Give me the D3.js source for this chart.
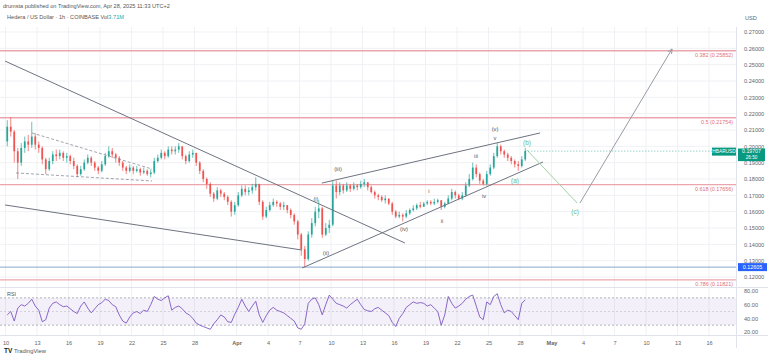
<!DOCTYPE html>
<html><head><meta charset="utf-8">
<script src="https://cdn.jsdelivr.net/npm/d3@7/dist/d3.min.js"></script>
<style>
body{margin:0;background:#fff;}
svg{display:block;font-family:"Liberation Sans",Arial,sans-serif;}
</style></head>
<body><svg id="c" width="768" height="359"></svg>
<script>
// ---------- DATA ----------
const firstOpen = 0.203;
const closes = [0.212,0.209,0.197,0.190,0.199,0.203,0.201,0.206,0.201,0.199,0.192,0.186,0.191,0.195,0.194,0.196,0.193,0.194,0.191,0.188,
0.183,0.186,0.190,0.193,0.190,0.187,0.185,0.189,0.194,0.197,0.195,0.193,0.190,0.187,0.185,0.187,0.185,0.186,0.184,0.185,
0.183,0.184,0.191,0.193,0.196,0.194,0.198,0.197,0.198,0.200,0.194,0.191,0.195,0.196,0.190,0.185,0.180,0.177,0.171,0.168,
0.173,0.171,0.169,0.166,0.160,0.164,0.170,0.174,0.172,0.173,0.175,0.177,0.166,0.157,0.161,0.164,0.166,0.165,0.163,0.164,
0.161,0.158,0.154,0.146,0.137,0.131,0.146,0.153,0.160,0.162,0.146,0.150,0.152,0.176,0.172,0.176,0.173,0.176,0.174,0.176,
0.175,0.177,0.178,0.175,0.172,0.170,0.169,0.167,0.168,0.165,0.160,0.157,0.158,0.157,0.159,0.161,0.162,0.164,0.163,0.165,
0.166,0.165,0.166,0.167,0.163,0.165,0.168,0.172,0.170,0.168,0.170,0.176,0.180,0.187,0.183,0.179,0.177,0.183,0.187,0.194,
0.200,0.197,0.195,0.193,0.191,0.189,0.188,0.192,0.19707];
const highs = [0.216,0.218,0.210,0.199,0.202,0.206,0.207,0.215,0.208,0.203,0.200,0.193,0.193,0.197,0.198,0.198,0.197,0.196,0.195,0.193,
0.189,0.188,0.192,0.195,0.194,0.191,0.188,0.191,0.196,0.200,0.199,0.196,0.194,0.191,0.188,0.189,0.188,0.188,0.187,0.187,
0.186,0.186,0.193,0.195,0.198,0.197,0.200,0.200,0.200,0.202,0.200,0.195,0.197,0.198,0.196,0.191,0.186,0.181,0.178,0.172,
0.175,0.174,0.172,0.170,0.167,0.166,0.172,0.176,0.176,0.175,0.177,0.181,0.177,0.167,0.163,0.166,0.168,0.167,0.166,0.166,
0.164,0.162,0.159,0.155,0.147,0.139,0.148,0.156,0.163,0.167,0.163,0.153,0.155,0.179,0.179,0.178,0.177,0.178,0.177,0.178,
0.177,0.179,0.180,0.178,0.176,0.173,0.171,0.170,0.170,0.168,0.166,0.161,0.160,0.159,0.161,0.162,0.164,0.165,0.166,0.166,
0.167,0.167,0.168,0.168,0.167,0.166,0.170,0.174,0.173,0.171,0.172,0.178,0.183,0.190,0.189,0.184,0.180,0.185,0.189,0.196,
0.202,0.201,0.198,0.196,0.194,0.192,0.191,0.194,0.199];
const lows = [0.200,0.206,0.190,0.180,0.188,0.196,0.197,0.199,0.198,0.196,0.189,0.183,0.185,0.189,0.191,0.192,0.191,0.190,0.189,0.186,
0.181,0.182,0.185,0.189,0.188,0.185,0.183,0.184,0.188,0.193,0.193,0.190,0.188,0.185,0.183,0.184,0.183,0.184,0.182,0.183,
0.182,0.181,0.183,0.190,0.192,0.192,0.193,0.195,0.195,0.196,0.192,0.189,0.190,0.193,0.188,0.183,0.178,0.174,0.169,0.166,
0.167,0.169,0.167,0.164,0.157,0.158,0.163,0.169,0.170,0.170,0.171,0.173,0.164,0.155,0.156,0.160,0.163,0.163,0.161,0.161,
0.159,0.156,0.152,0.143,0.133,0.126,0.130,0.144,0.151,0.156,0.144,0.145,0.147,0.151,0.168,0.170,0.171,0.172,0.172,0.173,
0.173,0.174,0.175,0.173,0.171,0.168,0.167,0.166,0.165,0.164,0.158,0.156,0.156,0.154,0.156,0.158,0.160,0.161,0.162,0.163,
0.164,0.164,0.164,0.165,0.161,0.162,0.165,0.167,0.168,0.167,0.167,0.169,0.175,0.179,0.181,0.177,0.176,0.176,0.182,0.186,
0.193,0.195,0.193,0.191,0.189,0.187,0.185,0.187,0.191];
const rsi = [45,50,36,55,60,58,62,68,58,52,35,38,55,62,64,60,57,58,54,50,
47,58,64,55,48,54,60,63,68,66,60,57,45,36,33,42,48,50,47,52,
50,60,72,68,66,70,73,52,56,58,54,48,45,40,33,30,28,26,24,32,
38,45,42,35,34,46,56,68,58,50,58,65,45,34,44,52,56,52,50,48,
44,40,36,26,24,32,62,68,70,60,45,60,74,68,62,60,58,55,60,64,
68,60,53,51,50,54,56,52,48,44,34,28,40,47,56,60,64,62,63,62,
58,60,55,50,30,45,72,62,55,58,62,68,72,74,58,42,38,64,60,72,
76,60,48,52,50,44,38,62,67];
const candleStart = "2025-03-10T00:00";
const candleHours = 8;

const priceTicks = [0.12,0.13,0.14,0.15,0.16,0.17,0.18,0.19,0.20,0.21,0.22,0.23,0.24,0.25,0.26,0.27];
const rsiTicks = [80,60,40,20];
const xTickDates = ["2025-03-10","2025-03-13","2025-03-16","2025-03-19","2025-03-22","2025-03-25","2025-03-28","2025-04-01",
"2025-04-04","2025-04-07","2025-04-10","2025-04-13","2025-04-16","2025-04-19","2025-04-22","2025-04-25","2025-04-28",
"2025-05-01","2025-05-04","2025-05-07","2025-05-10","2025-05-13","2025-05-16"];
const xTickLabels = ["10","13","16","19","22","25","28","Apr","4","7","10","13","16","19","22","25","28","May","4","7","10","13","16"];

const fibLevels = [0.25852,0.21754,0.17656,0.11821];
const fibNames = ["0.382","0.5","0.618","0.786"];
const supportLevel = 0.12605;
const lastPrice = 0.19707;

// drawn lines: [startDate, startPrice, endDate, endPrice]
const solidLines = [
 ["2025-03-09T23:00",0.2522,"2025-04-17T01:00",0.1408],
 ["2025-03-09T23:00",0.1641,"2025-04-07T06:00",0.1365],
 ["2025-04-09T03:00",0.1775,"2025-04-29T22:00",0.2082],
 ["2025-04-07T06:00",0.1255,"2025-04-30T04:30",0.1904]
];
const dashedLines = [
 ["2025-03-12T12:30",0.2082,"2025-03-23T23:00",0.1861],
 ["2025-03-11T00:00",0.1837,"2025-03-23T23:00",0.1788]
];
const greenPath = ["2025-04-28T16:00",0.1977,"2025-05-03T10:30",0.1653];
const arrowPath = ["2025-05-03T17:00",0.1653,"2025-05-12T11:30",0.2596];

const waveText = ["(i)","(ii)","(iii)","(iv)","i","ii","iii","iv","(v)","v","(a)","(b)","(c)"];
const waveDate = ["2025-04-08T13:40","2025-04-09T12:30","2025-04-10T16:00","2025-04-16T22:50","2025-04-19T08:00","2025-04-20T13:40",
"2025-04-23T19:30","2025-04-24T13:40","2025-04-25T15:00","2025-04-25T15:00","2025-04-27T12:30","2025-04-28T16:00","2025-05-03T05:50"];
const wavePrice = [0.1677,0.1347,0.1861,0.1494,0.1726,0.1543,0.1941,0.1690,0.2106,0.2051,0.1788,0.2020,0.1598];
const waveGreen = [false,false,false,false,false,false,false,false,false,false,true,true,true];

// ---------- SCALES ----------
const pT = d3.utcParse("%Y-%m-%dT%H:%M"), pD = d3.utcParse("%Y-%m-%d");
const x = d3.scaleUtc().domain([pD("2025-03-10"), pT("2025-05-18T13:42")]).range([5.5,736]);
const y = d3.scaleLinear().domain([0.12,0.27]).range([277,32]);
const yr = d3.scaleLinear().domain([20,80]).range([332,291]);
const PR = 736;

const svg = d3.select("#c");
svg.append("clipPath").attr("id","cm").append("rect").attr("x",0).attr("y",27).attr("width",PR).attr("height",260);
svg.append("clipPath").attr("id","cr").append("rect").attr("x",0).attr("y",287).attr("width",PR).attr("height",48);

// header
svg.append("text").attr("x",3).attr("y",8).attr("font-size",5.6).attr("fill","#555").text("drumsta published on TradingView.com, Apr 28, 2025 11:33 UTC+2");
// grid
const grid = svg.append("g");
grid.selectAll(".hg").data(priceTicks).join("line").attr("x1",0).attr("x2",PR).attr("y1",d=>y(d)).attr("y2",d=>y(d)).attr("stroke","#f0f1f4");
grid.selectAll(".vg").data(xTickDates).join("line").attr("x1",d=>x(pD(d))).attr("x2",d=>x(pD(d))).attr("y1",27).attr("y2",335).attr("stroke","#f0f1f4");
svg.append("line").attr("x1",PR+0.5).attr("x2",PR+0.5).attr("y1",27).attr("y2",348).attr("stroke","#e0e3eb");
svg.append("line").attr("x1",0).attr("x2",768).attr("y1",287.5).attr("y2",287.5).attr("stroke","#e0e3eb");
svg.append("line").attr("x1",0).attr("x2",768).attr("y1",335.5).attr("y2",335.5).attr("stroke","#e0e3eb");
svg.append("text").attr("x",7).attr("y",19).attr("font-size",5.6).attr("fill","#555").text("Hedera / US Dollar · 1h · COINBASE  Vol").append("tspan").attr("fill","#26a69a").text("3.71M");

// fib lines
const main = svg.append("g").attr("clip-path","url(#cm)");
main.selectAll(".fib").data(fibLevels).join("line").attr("x1",0).attr("x2",PR).attr("y1",d=>y(d)).attr("y2",d=>y(d)).attr("stroke","#eba5ad").attr("stroke-width",1.4);
svg.selectAll(".fibt").data(fibLevels).join("text").attr("x",PR-3).attr("y",d=>y(d)+6.5).attr("text-anchor","end").attr("font-size",5.4).attr("fill","#e0707c")
 .text((d,i)=>fibNames[i]+" ("+d.toFixed(5)+")");
main.append("line").attr("x1",0).attr("x2",PR).attr("y1",y(supportLevel)).attr("y2",y(supportLevel)).attr("stroke","#9fb9d6").attr("stroke-width",1.4);

// candles
const t0 = pT(candleStart);
const cw = x(new Date(t0.getTime()+candleHours*3600e3)) - x(t0);
const candles = closes.map((c,i)=>({t:new Date(t0.getTime()+(i+0.5)*candleHours*3600e3), o: i===0?firstOpen:closes[i-1], c, h:highs[i], l:lows[i]}));
const cg = main.append("g");
cg.selectAll(".w").data(candles).join("line").attr("x1",d=>x(d.t)).attr("x2",d=>x(d.t)).attr("y1",d=>y(d.h)).attr("y2",d=>y(d.l))
 .attr("stroke",d=>d.c>=d.o?"#26a69a":"#ef5350").attr("stroke-width",0.7);
cg.selectAll(".b").data(candles).join("rect").attr("x",d=>x(d.t)-cw*0.25).attr("width",cw*0.5)
 .attr("y",d=>y(Math.max(d.o,d.c))).attr("height",d=>Math.max(0.8,Math.abs(y(d.o)-y(d.c))))
 .attr("fill",d=>d.c>=d.o?"#26a69a":"#ef5350");

// drawings
const seg = a => ({x1:x(pT(a[0])),y1:y(a[1]),x2:x(pT(a[2])),y2:y(a[3])});
main.selectAll(".sl").data(solidLines.map(seg)).join("line").attr("x1",d=>d.x1).attr("y1",d=>d.y1).attr("x2",d=>d.x2).attr("y2",d=>d.y2)
 .attr("stroke","#6f7380").attr("stroke-width",1);
main.selectAll(".dl").data(dashedLines.map(seg)).join("line").attr("x1",d=>d.x1).attr("y1",d=>d.y1).attr("x2",d=>d.x2).attr("y2",d=>d.y2)
 .attr("stroke","#8a8d96").attr("stroke-width",0.8).attr("stroke-dasharray","3,2");
const g1 = seg(greenPath);
main.append("line").attr("x1",g1.x1).attr("y1",g1.y1).attr("x2",g1.x2).attr("y2",g1.y2).attr("stroke","#9fd3a2").attr("stroke-width",1);
const a1 = seg(arrowPath);
main.append("line").attr("x1",a1.x1).attr("y1",a1.y1).attr("x2",a1.x2).attr("y2",a1.y2).attr("stroke","#9a9ca4").attr("stroke-width",1);
const ang = Math.atan2(a1.y2-a1.y1, a1.x2-a1.x1);
const ah = 5;
main.append("path").attr("d",`M${a1.x2-ah*Math.cos(ang-0.45)},${a1.y2-ah*Math.sin(ang-0.45)} L${a1.x2},${a1.y2} L${a1.x2-ah*Math.cos(ang+0.45)},${a1.y2-ah*Math.sin(ang+0.45)}`)
 .attr("fill","none").attr("stroke","#9a9ca4").attr("stroke-width",1);

// wave labels
main.selectAll(".wv").data(waveText).join("text").attr("x",(d,i)=>x(pT(waveDate[i]))).attr("y",(d,i)=>y(wavePrice[i]))
 .attr("text-anchor","middle").attr("dominant-baseline","middle").attr("font-size",(d,i)=>waveGreen[i]?6.5:5.8)
 .attr("fill",(d,i)=>waveGreen[i]?"#6dbb72":"#555").text(d=>d);

// last price line
const lastT = candles[candles.length-1].t;
main.append("line").attr("x1",x(lastT)).attr("x2",PR).attr("y1",y(lastPrice)).attr("y2",y(lastPrice)).attr("stroke","#089981").attr("stroke-width",0.6).attr("stroke-dasharray","1,2");

// price axis
const ya = svg.append("g").attr("transform",`translate(${PR+5},0)`).call(d3.axisRight(y).tickValues(priceTicks).tickFormat(d3.format(".5f")).tickSize(0));
ya.select(".domain").remove();
ya.selectAll("text").attr("font-size",5.6).attr("fill","#666").attr("font-family","Liberation Sans, Arial");
svg.append("text").attr("x",745).attr("y",20).attr("font-size",5.6).attr("fill","#666").text("USD");
// support label
svg.append("rect").attr("x",PR+2).attr("y",y(supportLevel)-4).attr("width",29).attr("height",8).attr("fill","#2962ff");
svg.append("text").attr("x",PR+16.5).attr("y",y(supportLevel)+2).attr("text-anchor","middle").attr("font-size",5.4).attr("fill","#fff").text(supportLevel.toFixed(5));
// last price label
svg.append("rect").attr("x",712).attr("y",y(lastPrice)-3.5).attr("width",24).attr("height",8).attr("fill","#089981");
svg.append("text").attr("x",724).attr("y",y(lastPrice)+2.3).attr("text-anchor","middle").attr("font-size",4.8).attr("fill","#fff").text("HBARUSD");
svg.append("rect").attr("x",PR+2).attr("y",y(lastPrice)-2.6).attr("width",27).attr("height",12.6).attr("fill","#089981");
svg.append("text").attr("x",PR+15.5).attr("y",y(lastPrice)+2.3).attr("text-anchor","middle").attr("font-size",5.2).attr("fill","#fff").text(lastPrice.toFixed(5));
svg.append("text").attr("x",PR+15.5).attr("y",y(lastPrice)+8).attr("text-anchor","middle").attr("font-size",4.6).attr("fill","#fff").text("26:50");

// RSI pane
const rg = svg.append("g").attr("clip-path","url(#cr)");
rg.append("rect").attr("x",0).attr("width",PR).attr("y",yr(70)).attr("height",yr(30)-yr(70)).attr("fill","#7e57c2").attr("fill-opacity",0.09);
rg.selectAll(".rl").data([70,50,30]).join("line").attr("x1",0).attr("x2",PR).attr("y1",d=>yr(d)).attr("y2",d=>yr(d))
 .attr("stroke",d=>d===50?"#c3c4ca":"#9598a1").attr("stroke-width",0.7).attr("stroke-dasharray","2,2");
rg.append("path").datum(rsi).attr("d",d3.line().x((d,i)=>x(candles[i].t)).y(d=>yr(d))).attr("fill","none").attr("stroke","#7e57c2").attr("stroke-width",0.9);
svg.append("text").attr("x",7).attr("y",296).attr("font-size",5.4).attr("fill","#555").text("RSI");
const ra = svg.append("g").attr("transform",`translate(${PR+5},0)`).call(d3.axisRight(yr).tickValues(rsiTicks).tickFormat(d3.format(".2f")).tickSize(0));
ra.select(".domain").remove();
ra.selectAll("text").attr("font-size",5.6).attr("fill","#666");

// time axis
const xa = svg.append("g").attr("transform","translate(0,338)").call(d3.axisBottom(x).tickValues(xTickDates.map(pD)).tickFormat((d,i)=>xTickLabels[i]).tickSize(0));
xa.select(".domain").remove();
xa.selectAll("text").attr("font-size",5.6).attr("fill","#666").attr("font-weight",(d,i)=>isNaN(+xTickLabels[i])?"bold":"normal");

// logo
svg.append("text").attr("x",4).attr("y",353).attr("font-size",6.5).attr("font-weight","bold").attr("fill","#131722").text("TV");
svg.append("text").attr("x",14).attr("y",353).attr("font-size",5.8).attr("fill","#555").text("TradingView");
</script></body></html>
